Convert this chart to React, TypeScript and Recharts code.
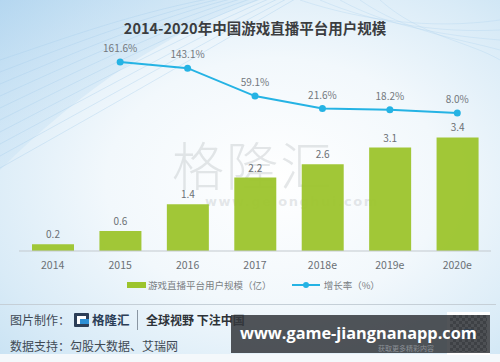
import React from 'react';
import { ComposedChart, Bar, Line, XAxis, YAxis, LabelList, Legend } from 'recharts';

const categories = ['2014', '2015', '2016', '2017', '2018e', '2019e', '2020e'];
const users = [0.2, 0.6, 1.4, 2.2, 2.6, 3.1, 3.4];
const growth: (number | null)[] = [null, 161.6, 143.1, 59.1, 21.6, 18.2, 8.0];

const title = '2014-2020年中国游戏直播平台用户规模';
const barName = '游戏直播平台用户规模（亿）';
const lineName = '增长率（%）';

const data = categories.map((c, i) => ({ name: c, users: users[i], growth: growth[i] }));

const FONT = '"Noto Sans CJK SC", "Noto Sans", sans-serif';
const GREEN = '#9cc42c';
const BLUE = '#25b3e4';

const LegendContent = () => (
  <div style={{ display: 'flex', justifyContent: 'center', alignItems: 'center', fontFamily: FONT, fontSize: 9.5, color: '#7a7f84', paddingLeft: 7 }}>
    <span style={{ display: 'inline-block', width: 19, height: 6, background: GREEN, marginRight: 2 }} />
    <span>{barName}</span>
    <svg width={30} height={10} style={{ marginLeft: 20, marginRight: 2 }}>
      <line x1={0} y1={5} x2={28} y2={5} stroke={BLUE} strokeWidth={2} />
      <circle cx={14} cy={5} r={3} fill={BLUE} />
    </svg>
    <span>{lineName}</span>
  </div>
);

const Background = () => (
  <svg width={500} height={362} style={{ position: 'absolute', left: 0, top: 0 }}>
    <defs>
      <radialGradient id="bg" cx="0.55" cy="0.5" r="0.75">
        <stop offset="0" stopColor="#ffffff" />
        <stop offset="0.45" stopColor="#f2f8fc" />
        <stop offset="0.8" stopColor="#d9ebf7" />
        <stop offset="1" stopColor="#c8e2f3" />
      </radialGradient>
      <linearGradient id="sw" x1="0" y1="0" x2="1" y2="1">
        <stop offset="0" stopColor="#a9d0ee" stopOpacity="0.9" />
        <stop offset="1" stopColor="#d8ecf8" stopOpacity="0" />
      </linearGradient>
    </defs>
    <rect x={0} y={0} width={500} height={362} fill="url(#bg)" />
    <path d="M0,0 L260,0 C170,30 80,90 0,170 Z" fill="url(#sw)" opacity={0.7} />
    {[0, 1, 2, 3, 4, 5, 6, 7, 8, 9].map((i) => (
      <path key={i} d={`M0,${60 + i * 12} C${60 + i * 8},${40 + i * 6} ${140 + i * 10},${10 + i * 3} ${230 + i * 8},-5`} stroke="#a6cdec" strokeOpacity={0.45} fill="none" strokeWidth={0.8} />
    ))}
    {[0, 1, 2, 3, 4].map((i) => (
      <path key={'r' + i} d={`M${300 + i * 20},0 C${360 + i * 15},${20 + i * 4} ${430 + i * 10},${30 + i * 3} 500,${20 + i * 10}`} stroke="#b6d8f0" strokeOpacity={0.5} fill="none" strokeWidth={0.8} />
    ))}
    <rect x={0} y={354} width={500} height={8} fill="#f4f8fb" />
  </svg>
);

export default function App() {
  return (
    <div style={{ position: 'absolute', left: 0, top: 0, width: 500, height: 362, overflow: 'hidden', fontFamily: FONT }}>
      <Background />
      <div style={{ position: 'absolute', left: 0, top: 17, width: 510, textAlign: 'center', fontSize: 14.5, fontWeight: 700, color: '#3b3d40' }}>
        {title}
      </div>
      {/* watermark (behind labels) */}
      <div style={{ position: 'absolute', left: 168, top: 126, width: 170, textAlign: 'center', fontSize: 52, fontWeight: 300, color: 'rgba(170,175,180,0.3)', letterSpacing: 2 }}>格隆汇</div>
      <div style={{ position: 'absolute', left: 205, top: 194, width: 130, textAlign: 'center', fontSize: 13, fontWeight: 700, color: 'rgba(170,175,180,0.3)', letterSpacing: 1.5, fontFamily: '"DejaVu Sans", sans-serif' }}>www.gelonghui.com</div>
      <div style={{ position: 'absolute', left: 0, top: 0 }}>
        <ComposedChart width={500} height={362} data={data} margin={{ top: 40, right: 9, left: 19, bottom: 81 }}>
          <XAxis dataKey="name" height={30} axisLine={{ stroke: '#c3c9ce' }} tickLine={false} tickMargin={5}
            tick={{ fill: '#6b7075', fontSize: 10.5, fontFamily: FONT }} interval={0} />
          <YAxis yAxisId="left" hide domain={[0, 6.32]} />
          <YAxis yAxisId="right" hide domain={[-407.5, 228]} orientation="right" />
          <Bar yAxisId="left" dataKey="users" name={barName} fill={GREEN} fillOpacity={0.95} barSize={42} isAnimationActive={false}>
            <LabelList dataKey="users" position="top" offset={6} fill="#6b7075" fontSize={10} fontFamily={FONT} />
          </Bar>
          <Line yAxisId="right" dataKey="growth" name={lineName} stroke={BLUE} strokeWidth={2}
            dot={{ r: 3.5, fill: BLUE, stroke: BLUE, strokeWidth: 0 }} isAnimationActive={false} connectNulls={false}>
            <LabelList dataKey="growth" position="top" offset={10} fill="#73787d" fontSize={10} fontFamily={FONT}
              formatter={(v: any) => (v == null ? '' : `${Number(v).toFixed(1)}%`)} />
          </Line>
          <Legend layout="horizontal" verticalAlign="middle" align="center" content={<LegendContent />}
            wrapperStyle={{ position: 'absolute', top: 278, left: 0, width: 500 }} />
        </ComposedChart>
      </div>
      {/* footer */}
      <div style={{ position: 'absolute', left: 0, top: 304, width: 496, height: 1, background: '#c5cfd7' }} />
      <div style={{ position: 'absolute', left: 10, top: 311, fontSize: 12, color: '#3f4a55' }}>图片制作：</div>
      <div style={{ position: 'absolute', left: 74, top: 313, width: 15, height: 14, background: '#2c3e57', borderRadius: 1 }}>
        <div style={{ position: 'absolute', left: 3, top: 3, width: 9, height: 8, background: '#ffffff' }} />
        <div style={{ position: 'absolute', left: 6, top: 6, width: 9, height: 5, background: '#2d8fd5' }} />
      </div>
      <div style={{ position: 'absolute', left: 92, top: 310, fontSize: 12.5, fontWeight: 700, color: '#2c3e57' }}>格隆汇</div>
      <div style={{ position: 'absolute', left: 137, top: 310, width: 1, height: 20, background: '#8a96a2' }} />
      <div style={{ position: 'absolute', left: 146, top: 311, fontSize: 12, fontWeight: 700, color: '#2d3238' }}>全球视野 下注中国</div>
      <div style={{ position: 'absolute', left: 10, top: 337, fontSize: 12, color: '#3f4a55' }}>数据支持：勾股大数据、艾瑞网</div>
      {/* QR then overlay on top */}
      <div style={{ position: 'absolute', left: 447, top: 312, width: 43, height: 43, background: '#ffffff' }}>
        <div style={{ position: 'absolute', left: 3, top: 3, width: 37, height: 37, background: 'repeating-conic-gradient(#555 0% 25%, #dcdcdc 0% 50%)', backgroundSize: '6px 6px', opacity: 0.8 }} />
        <div style={{ position: 'absolute', left: 17, top: 17, width: 9, height: 9, background: '#2a7fd0' }} />
      </div>
      <div style={{ position: 'absolute', left: 231, top: 315, width: 259, height: 38, background: 'rgba(52,56,61,0.86)' }} />
      <div style={{ position: 'absolute', left: 378, top: 344, fontSize: 7, color: '#8b9096', lineHeight: '8px' }}>获取更多精彩内容</div>
      <div style={{ position: 'absolute', left: 240, top: 323, fontSize: 16.3, fontWeight: 700, color: '#ffffff', fontFamily: '"Open Sans", "Noto Sans", sans-serif', lineHeight: '20px', whiteSpace: 'nowrap' }}>www.game-jiangnanapp.com</div>
    </div>
  );
}
